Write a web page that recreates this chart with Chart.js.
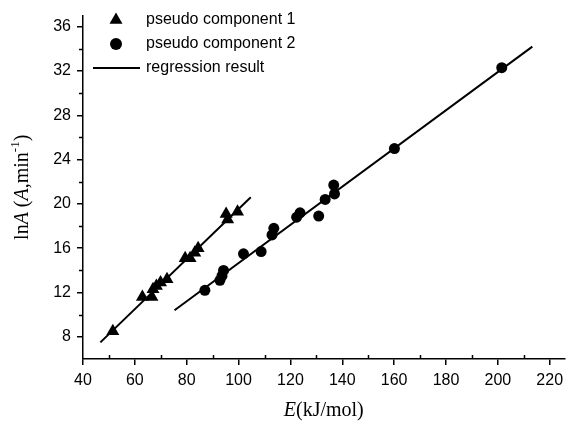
<!DOCTYPE html>
<html>
<head>
<meta charset="utf-8">
<script src="https://cdn.jsdelivr.net/npm/chart.js@4.4.0/dist/chart.umd.min.js"></script>
<style>
  html, body { margin: 0; padding: 0; background: #fff; }
  #wrap { width: 572px; height: 426px; position: relative; }
</style>
</head>
<body>
<div id="wrap"><canvas id="myChart"></canvas></div>
<script>
// pseudo component 1 (triangles)
var comp1E   = [51.5, 62.9, 66.6, 67.0, 68.3, 69.9, 72.4, 79.4, 81.3, 83.1, 84.4, 95.2, 95.8, 99.6];
var comp1LnA = [8.5, 11.6, 11.6, 12.3, 12.6, 12.9, 13.2, 15.1, 15.1, 15.6, 16.0, 19.1, 18.6, 19.3];

// pseudo component 2 (circles)
var comp2E   = [87.0, 92.8, 93.6, 94.2, 101.9, 108.7, 112.9, 113.6, 122.4, 123.7, 130.9, 133.4, 136.7, 137.0, 160.1, 201.5];
var comp2LnA = [12.2, 13.1, 13.5, 14.0, 15.5, 15.7, 17.2, 17.8, 18.8, 19.2, 18.9, 20.4, 21.7, 20.9, 25.0, 32.3];

// regression lines (end points)
var reg1E   = [46.7, 104.7];
var reg1LnA = [7.5, 20.6];
var reg2E   = [75.3, 213.3];
var reg2LnA = [10.4, 34.2];

var xTickValues = [40, 60, 80, 100, 120, 140, 160, 180, 200, 220];
var yTickValues = [8, 12, 16, 20, 24, 28, 32, 36];
var xMinorValues = [50, 70, 90, 110, 130, 150, 170, 190, 210];
var yMinorValues = [10, 14, 18, 22, 26, 30, 34];

var legendLabels = ['pseudo component 1', 'pseudo component 2', 'regression result'];

function pts(xs, ys) {
  return xs.map(function (v, i) { return { x: v, y: ys[i] }; });
}

var sans = '"Liberation Sans", Arial, sans-serif';
var serif = '"Liberation Serif", "Times New Roman", serif';

function drawRich(ctx, parts, x, y, align) {
  // parts: [text, font, dy]
  var total = 0;
  parts.forEach(function (p) { ctx.font = p[1]; total += ctx.measureText(p[0]).width; });
  var cx = align === 'center' ? x - total / 2 : x;
  parts.forEach(function (p) {
    ctx.font = p[1];
    ctx.fillText(p[0], cx, y + (p[2] || 0));
    cx += ctx.measureText(p[0]).width;
  });
}

var extras = {
  id: 'extras',
  afterDraw: function (chart) {
    var ctx = chart.ctx;
    var xs = chart.scales.x, ys = chart.scales.y;
    var area = chart.chartArea;
    ctx.save();
    ctx.strokeStyle = '#000';
    ctx.fillStyle = '#000';
    ctx.lineWidth = 1.5;

    // minor ticks
    ctx.beginPath();
    xMinorValues.forEach(function (v) {
      var px = Math.round(xs.getPixelForValue(v)) + 0.5;
      ctx.moveTo(px, area.bottom);
      ctx.lineTo(px, area.bottom - 4);
    });
    yMinorValues.forEach(function (v) {
      var py = Math.round(ys.getPixelForValue(v)) + 0.5;
      ctx.moveTo(area.left, py);
      ctx.lineTo(area.left - 4, py);
    });
    ctx.stroke();

    // legend
    var lx = 116, tx = 146;
    var rows = [20, 44, 68];
    ctx.font = '16px ' + sans;
    ctx.textBaseline = 'middle';
    // triangle
    var r = 7.5;
    ctx.beginPath();
    ctx.moveTo(lx, rows[0] - r);
    ctx.lineTo(lx + r * 0.866, rows[0] + r * 0.5);
    ctx.lineTo(lx - r * 0.866, rows[0] + r * 0.5);
    ctx.closePath();
    ctx.fill();
    // circle
    ctx.beginPath();
    ctx.arc(lx, rows[1], 6, 0, Math.PI * 2);
    ctx.fill();
    // line
    ctx.beginPath();
    ctx.lineWidth = 2;
    ctx.moveTo(93, rows[2]);
    ctx.lineTo(140, rows[2]);
    ctx.stroke();
    legendLabels.forEach(function (t, i) {
      ctx.fillText(t, tx, rows[i]);
    });

    // x title
    ctx.textBaseline = 'alphabetic';
    drawRich(ctx, [
      ['E', 'italic 20px ' + serif],
      ['(kJ/mol)', '20px ' + serif]
    ], (area.left + area.right) / 2, 416, 'center');

    // y title
    ctx.save();
    ctx.translate(28, (area.top + area.bottom) / 2);
    ctx.rotate(-Math.PI / 2);
    drawRich(ctx, [
      ['ln', '20px ' + serif],
      ['A', 'italic 20px ' + serif],
      [' (', '20px ' + serif],
      ['A', 'italic 20px ' + serif],
      [',min', '20px ' + serif],
      ['-1', '13px ' + serif, -9],
      [')', '20px ' + serif]
    ], 0, 0, 'center');
    ctx.restore();

    ctx.restore();
  }
};

const data = {
  datasets: [{
    label: legendLabels[0],
    data: pts(comp1E, comp1LnA),
    pointStyle: 'triangle',
    pointRadius: 7.5,
    pointBackgroundColor: '#000',
    pointBorderColor: '#000',
    pointBorderWidth: 0,
    showLine: false
  }, {
    label: legendLabels[1],
    data: pts(comp2E, comp2LnA),
    pointStyle: 'circle',
    pointRadius: 5.5,
    pointBackgroundColor: '#000',
    pointBorderColor: '#000',
    pointBorderWidth: 0,
    showLine: false
  }, {
    label: legendLabels[2],
    data: pts(reg1E, reg1LnA),
    showLine: true,
    borderColor: '#000',
    borderWidth: 2,
    pointRadius: 0,
    fill: false
  }, {
    label: legendLabels[2],
    data: pts(reg2E, reg2LnA),
    showLine: true,
    borderColor: '#000',
    borderWidth: 2,
    pointRadius: 0,
    fill: false
  }]
};

const config = {
  type: 'scatter',
  data: data,
  options: {
    responsive: true,
    maintainAspectRatio: false,
    animation: false,
    layout: { padding: { top: 7, right: 0, left: 0, bottom: 0 } },
    plugins: {
      legend: { display: false },
      tooltip: { enabled: false }
    },
    scales: {
      x: {
        type: 'linear',
        min: 40,
        max: 225.7,
        afterBuildTicks: function (s) { s.ticks = xTickValues.map(function (v) { return { value: v }; }); },
        afterFit: function (s) { s.height = 67; },
        ticks: { color: '#000', font: { family: sans, size: 16 }, padding: 6, maxRotation: 0, autoSkip: false },
        grid: { drawOnChartArea: false, tickLength: 6, color: '#000', lineWidth: 1.5 },
        border: { display: true, color: '#000', width: 1.5 }
      },
      y: {
        type: 'linear',
        min: 6,
        max: 37,
        afterBuildTicks: function (s) { s.ticks = yTickValues.map(function (v) { return { value: v }; }); },
        afterFit: function (s) { s.width = 83; },
        ticks: { color: '#000', font: { family: sans, size: 16 }, padding: 6, autoSkip: false },
        grid: { drawOnChartArea: false, tickLength: 6, color: '#000', lineWidth: 1.5 },
        border: { display: true, color: '#000', width: 1.5 }
      }
    }
  },
  plugins: [extras]
};

var myChart = new Chart(document.getElementById('myChart'), config);
</script>
</body>
</html>
